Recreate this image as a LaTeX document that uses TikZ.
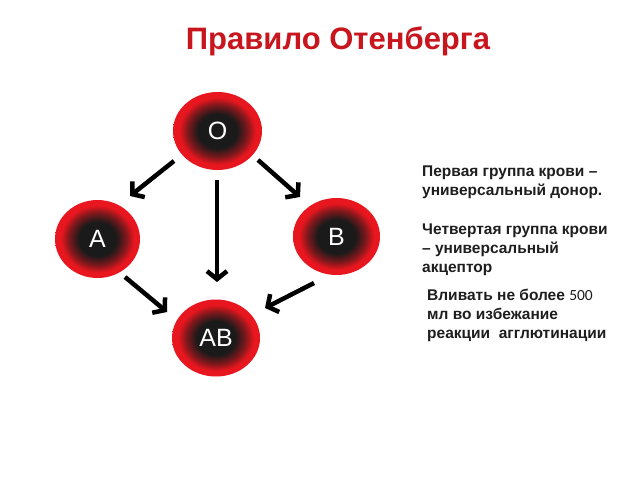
\documentclass[tikz,border=0pt]{standalone}
\usepackage{fontspec}
\setmainfont{Liberation Sans}
\newfontfamily\carl{Carlito}
\usetikzlibrary{shapes.geometric,arrows.meta,calc}
\definecolor{bred}{HTML}{E8161E}
\definecolor{dk}{HTML}{1A1A1A}
\definecolor{titlered}{HTML}{C8161E}
\definecolor{txt}{HTML}{1E1E1E}
\pgfdeclareradialshading{blood}{\pgfpoint{0bp}{0bp}}{color(0bp)=(dk); color(11bp)=(dk); color(17bp)=(bred!50!dk); color(21.5bp)=(bred); color(50bp)=(bred)}
\tikzset{
  cell/.style={ellipse, shading=blood, inner sep=0pt, text=white, font=\fontsize{25}{25}\selectfont},
  arr/.style={line width=4.5pt, -{Straight Barb[length=8pt,width=20pt]}, black},
  info/.style={anchor=north west, align=left, text=txt, inner sep=0pt, font=\fontsize{15.5}{19}\selectfont\bfseries}
}
\begin{document}
\begin{tikzpicture}[x=1pt,y=-1pt]
\useasboundingbox[fill=white] (0,0) rectangle (640,480);
\node[text=titlered, font=\fontsize{31}{31}\selectfont\bfseries] (title) at (338,41) {Правило Отенберга};
\node[cell, minimum width=89pt, minimum height=78pt] (O) at (217.5,131) {O};
\node[cell, minimum width=85pt, minimum height=78pt] (A) at (97.5,239) {A};
\node[cell, minimum width=87pt, minimum height=77pt] (B) at (336.5,236.5) {B};
\node[cell, minimum width=88pt, minimum height=77pt] (AB) at (216,338) {AB};
\draw[arr] ($(O)+(-43.5,30)$) -- ($(A)+(32.5,-43)$);
\draw[arr] ($(O)+(40.5,29)$) -- ($(B)+(-36.5,-39.5)$);
\draw[arr] ($(O)+(-0.5,49)$) -- ($(AB)+(1,-56)$);
\draw[arr] ($(A)+(27.5,38)$) -- ($(AB)+(-49,-26)$);
\draw[arr] ($(B)+(-22.5,46.5)$) -- ($(AB)+(49,-30)$);
\node[info] (t1) at (422,166) {Первая группа крови –\\универсальный донор.};
\node[info] (t2) at (422,224) {Четвертая группа крови\\– универсальный\\акцептор};
\node[info] (t3) at (427,289) {Вливать не более {\carl\mdseries 500}\\мл во избежание\\реакции\ \ агглютинации};
\end{tikzpicture}
\end{document}
